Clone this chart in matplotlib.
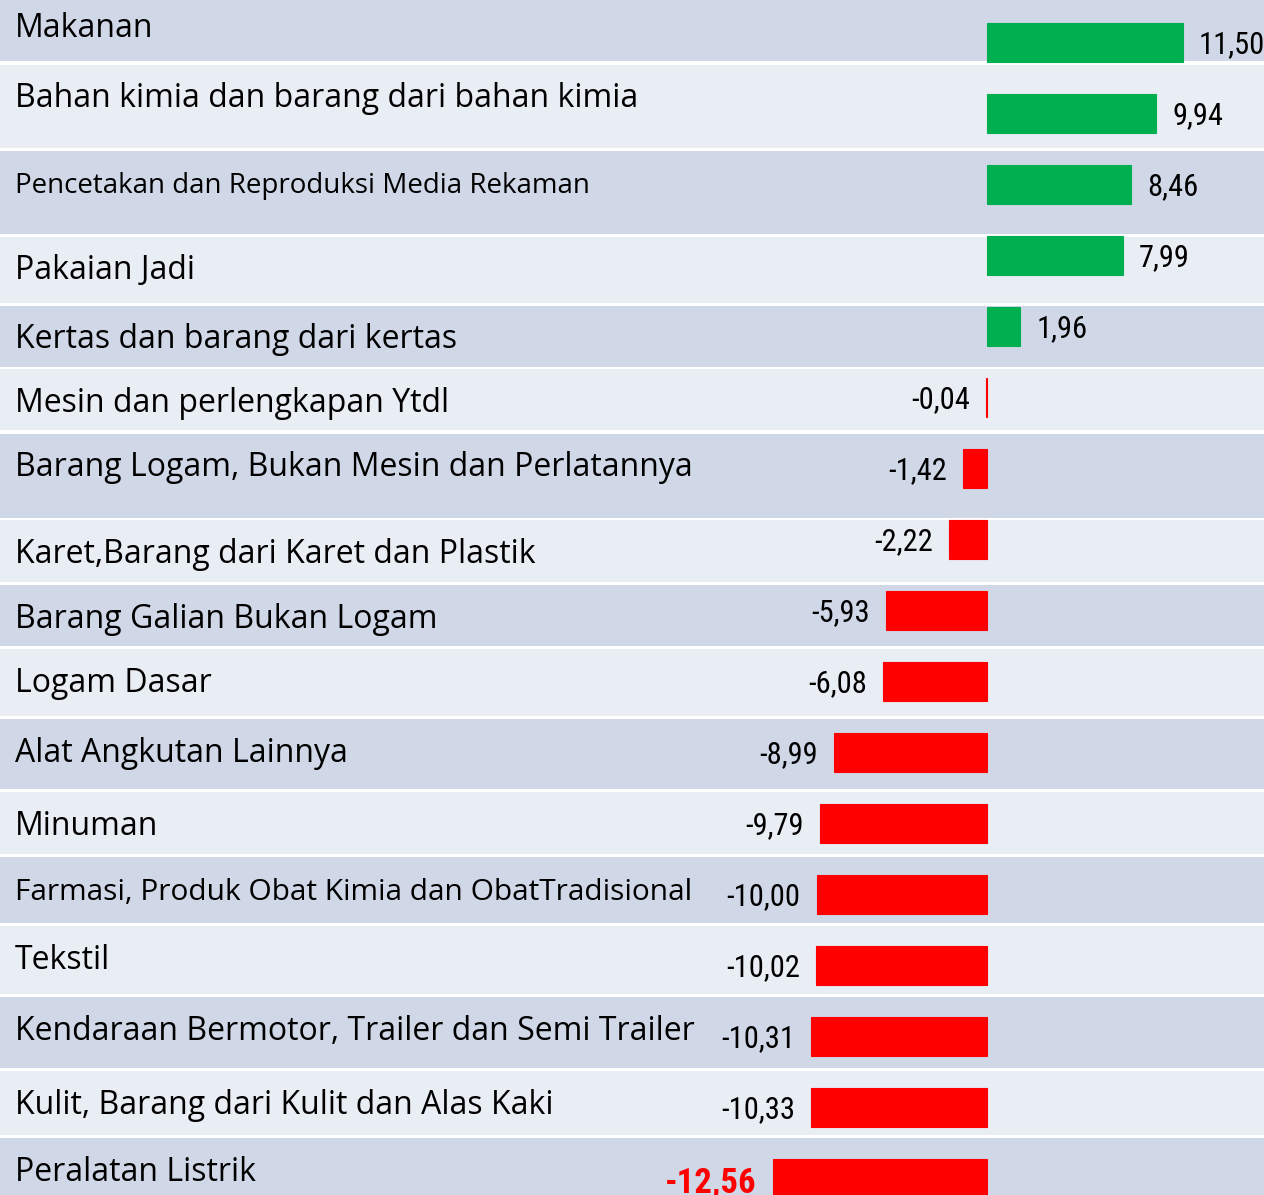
import matplotlib

matplotlib.use("Agg")
import matplotlib.pyplot as plt
from matplotlib import font_manager
from matplotlib.font_manager import FontProperties

# industry growth (%), top to bottom as in the slide
categories = [
    "Makanan",
    "Bahan kimia dan barang dari bahan kimia",
    "Pencetakan dan Reproduksi Media Rekaman",
    "Pakaian Jadi",
    "Kertas dan barang dari kertas",
    "Mesin dan perlengkapan Ytdl",
    "Barang Logam, Bukan Mesin dan Perlatannya",
    "Karet,Barang dari Karet dan Plastik",
    "Barang Galian Bukan Logam",
    "Logam Dasar",
    "Alat Angkutan Lainnya",
    "Minuman",
    "Farmasi, Produk Obat Kimia dan ObatTradisional",
    "Tekstil",
    "Kendaraan Bermotor, Trailer dan Semi Trailer",
    "Kulit, Barang dari Kulit dan Alas Kaki",
    "Peralatan Listrik",
]
values = [11.50, 9.94, 8.46, 7.99, 1.96, -0.04, -1.42, -2.22, -5.93, -6.08,
          -8.99, -9.79, -10.00, -10.02, -10.31, -10.33, -12.56]

# layout (pixels of the 1264x1195 picture)
W, H = 1264, 1195
ZERO_PX = 987
PX_PER_UNIT = 17.04
FIRST_BAR_PX = 42.5
BAR_STEP_PX = 71
# table row separators (white lines), top of first row lies above the picture
row_edges = [-7, 63, 149, 235, 304, 368, 432, 519, 584, 648, 718, 791, 856,
             925, 996, 1070, 1137, 1215]
# a few labels are set smaller in the slide
label_sizes = {2: 20, 12: 21.5}


def narrow_face(bold):
    # look for an installed narrow/condensed sans for the value labels
    prefs = ["Liberation Sans Narrow", "Roboto Condensed", "DejaVu Sans",
             "Noto Sans", "Open Sans", "Liberation Sans"]
    found = {}
    for f in font_manager.fontManager.ttflist:
        narrow = ("Narrow" in f.name or "Condensed" in f.name
                  or f.stretch in ("condensed", "semi-condensed", "extra-condensed", "ultra-condensed"))
        if not narrow or f.style != "normal":
            continue
        w = f.weight if isinstance(f.weight, int) else (700 if f.weight == "bold" else 400)
        if (w >= 600) != bold:
            continue
        found.setdefault(f.name, f.fname)
    for p in prefs:
        if p in found:
            return FontProperties(fname=found[p]), True
    if found:
        return FontProperties(fname=next(iter(found.values()))), True
    return FontProperties(family="DejaVu Sans", weight="bold" if bold else "normal"), False


num_fp, is_narrow = narrow_face(False)
num_bold_fp, _ = narrow_face(True)
num_size = 22 if is_narrow else 17
label_font = "Open Sans"


def px_to_y(px):
    return (px - FIRST_BAR_PX) / BAR_STEP_PX


fig = plt.figure(figsize=(W / 100, H / 100), dpi=100)
fig.patch.set_facecolor("white")
ax = fig.add_axes([0, 0, 1, 1])
ax.set_xlim(-ZERO_PX / PX_PER_UNIT, (W - ZERO_PX) / PX_PER_UNIT)
ax.set_ylim(px_to_y(H), px_to_y(0))
ax.axis("off")

# banded table background
for i in range(len(row_edges) - 1):
    band = "#D0D8E8" if i % 2 == 0 else "#E9EDF4"
    ax.axhspan(px_to_y(row_edges[i] + 1.5), px_to_y(row_edges[i + 1] - 1.5),
               color=band, lw=0, zorder=0)

colors = ["#00B050" if v > 0 else "#FF0000" for v in values]
ax.barh(range(len(values)), values, height=39 / BAR_STEP_PX, color=colors,
        edgecolor=colors, linewidth=0.8, zorder=2)

trans = ax.get_yaxis_transform()
for i, cat in enumerate(categories):
    ax.text(15 / W, px_to_y(row_edges[i] + 44), cat, transform=trans,
            ha="left", va="baseline", fontsize=label_sizes.get(i, 23),
            family=label_font, color="black", zorder=3)

gap = 16 / PX_PER_UNIT
for i, v in enumerate(values):
    txt = f"{v:.2f}".replace(".", ",")
    y = i + 11 / BAR_STEP_PX
    if v > 0:
        ax.text(v + gap, y, txt, ha="left", va="baseline", fontproperties=num_fp,
                fontsize=num_size, zorder=3)
    elif i == len(values) - 1:
        ax.text(v - gap, i + 14 / BAR_STEP_PX, txt, ha="right", va="baseline",
                fontproperties=num_bold_fp, fontsize=num_size + 3,
                fontweight="bold", color="#FF0000", zorder=3)
    else:
        ax.text(v - gap, y, txt, ha="right", va="baseline", fontproperties=num_fp,
                fontsize=num_size, zorder=3)

fig.savefig("out.png", dpi=100, facecolor="white")
